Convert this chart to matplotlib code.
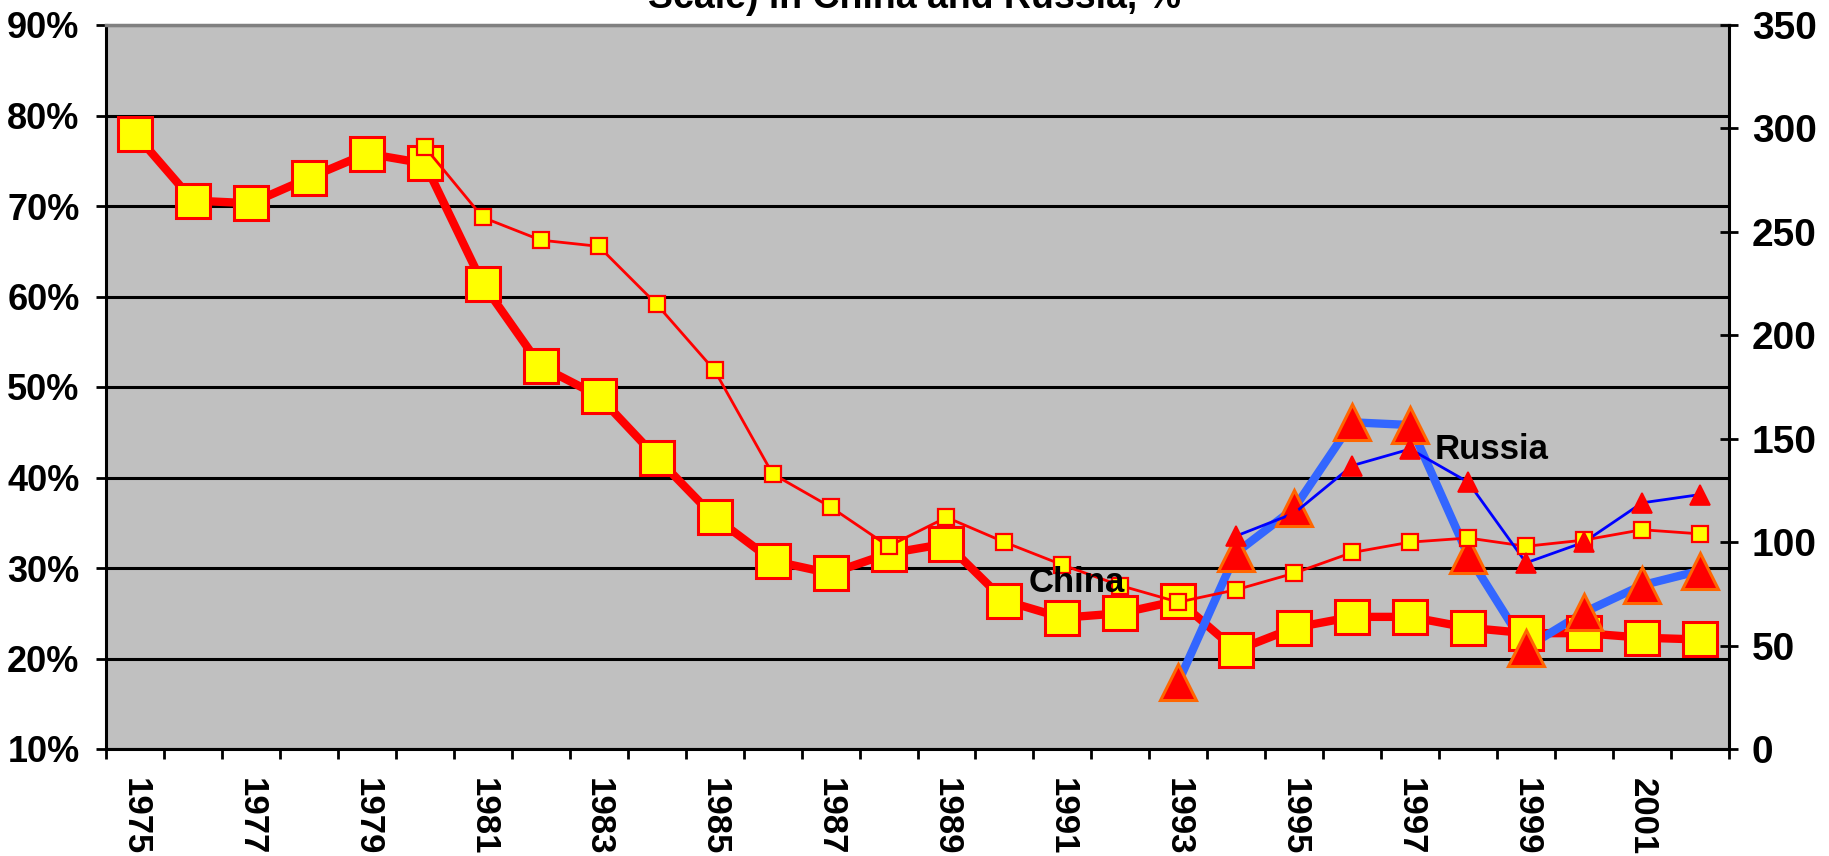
import numpy as np
import matplotlib
matplotlib.use("Agg")
import matplotlib.pyplot as plt

plt.rcParams["font.family"] = ["Liberation Sans", "DejaVu Sans"]

nan = np.nan
years = list(range(1975, 2003))

# left scale, %
china_share = [78.0, 70.6, 70.3, 73.1, 75.8, 74.7, 61.4, 52.3, 49.0, 42.2,
               35.6, 30.8, 29.4, 31.6, 32.7, 26.4, 24.5, 25.0, 26.4, 20.9,
               23.4, 24.6, 24.6, 23.4, 22.8, 22.8, 22.3, 22.1]
russia_share = [nan] * 18 + [17.4, 31.7, 36.6, 46.1, 45.8, 31.4, 21.2, 25.1, 28.1, 29.7]

# right scale
china_index = [nan] * 5 + [291, 257, 246, 243, 215, 183, 133, 117, 98, 112, 100,
                           89, 79, 71, 77, 85, 95, 100, 102, 98, 101, 106, 104]
russia_index = [nan] * 19 + [103, 114, 137, 145, 129, 90, 100, 119, 123]

left_ticks = list(range(10, 91, 10))
right_ticks = list(range(0, 351, 50))

RED = "#FF0000"
YELLOW = "#FFFF00"
ORANGE = "#FF6600"
BLUE_THICK = "#3366FF"
BLUE_THIN = "#0000FF"

fig = plt.figure(figsize=(18.29, 8.56), dpi=100)
ax = fig.add_axes([106 / 1829, 1 - 749 / 856, (1729 - 106) / 1829, (749 - 25) / 856])
ax.set_facecolor("#C0C0C0")
x = np.arange(len(years))

# thick series: lines first, then markers
ax.plot(x, china_share, color=RED, lw=6, solid_joinstyle="round", zorder=2)
ax.plot(x, russia_share, color=BLUE_THICK, lw=6, solid_joinstyle="round", zorder=2)
ax.plot(x, china_share, ls="none", marker="s", ms=24.5, mfc=YELLOW, mec=RED, mew=2.2, zorder=3)
ax.plot(x, russia_share, ls="none", marker="^", ms=26, mfc=RED, mec=ORANGE, mew=2.2, zorder=3)

ax.set_xlim(-0.5, len(years) - 0.5)
ax.set_ylim(10, 90)
ax.set_yticks(left_ticks)
ax.set_yticklabels([f"{v}%" for v in left_ticks])
ax.yaxis.grid(True, color="black", lw=2.2)
ax.set_axisbelow(True)

ax.set_xticks(np.arange(-0.5, len(years), 1))
ax.set_xticklabels([])
ax.set_xticks(x[::2], [str(y) for y in years[::2]], minor=True, rotation=-90)
ax.tick_params(axis="x", which="major", direction="out", length=7, width=2)
ax.tick_params(axis="x", which="minor", length=0, pad=21, labelsize=25)
ax.tick_params(axis="y", direction="out", length=7, width=2, pad=12, labelsize=26)
for lab in ax.get_xticklabels(minor=True) + ax.get_yticklabels():
    lab.set_fontweight("bold")

ax.spines["top"].set_color("#808080")
ax.spines["top"].set_linewidth(2.5)
for s in ("left", "bottom"):
    ax.spines[s].set_color("black")
    ax.spines[s].set_linewidth(2.2)
ax.spines["right"].set_visible(False)

ax2 = ax.twinx()
ax2.set_ylim(0, 350)
ax2.set_yticks(right_ticks)
ax2.tick_params(axis="y", direction="inout", length=13, width=2, pad=10, labelsize=28)
for lab in ax2.get_yticklabels():
    lab.set_fontweight("bold")
for s in ("top", "left", "bottom"):
    ax2.spines[s].set_visible(False)
ax2.spines["right"].set_color("black")
ax2.spines["right"].set_linewidth(2.2)

ax2.plot(x, china_index, color=RED, lw=2, zorder=2)
ax2.plot(x, russia_index, color=BLUE_THIN, lw=2, zorder=2)
ax2.plot(x, china_index, ls="none", marker="s", ms=11, mfc=YELLOW, mec=RED, mew=1.6, zorder=3)
ax2.plot(x, russia_index, ls="none", marker="^", ms=14, mfc=RED, mec=RED, mew=1.2, zorder=3)

ax2.text(15.42, 27.4, "China", transform=ax.transData, fontsize=25, fontweight="bold",
         ha="left", va="baseline", zorder=5)
ax2.text(22.42, 42.0, "Russia", transform=ax.transData, fontsize=25, fontweight="bold",
         ha="left", va="baseline", zorder=5)

# only the last line of the title shows at the top edge, as in the source
fig.text(0.5, 1 - 8 / 856, "Scale) in China and Russia, %", ha="center", va="baseline",
         fontsize=27, fontweight="bold")

fig.savefig("out.png", dpi=100)
